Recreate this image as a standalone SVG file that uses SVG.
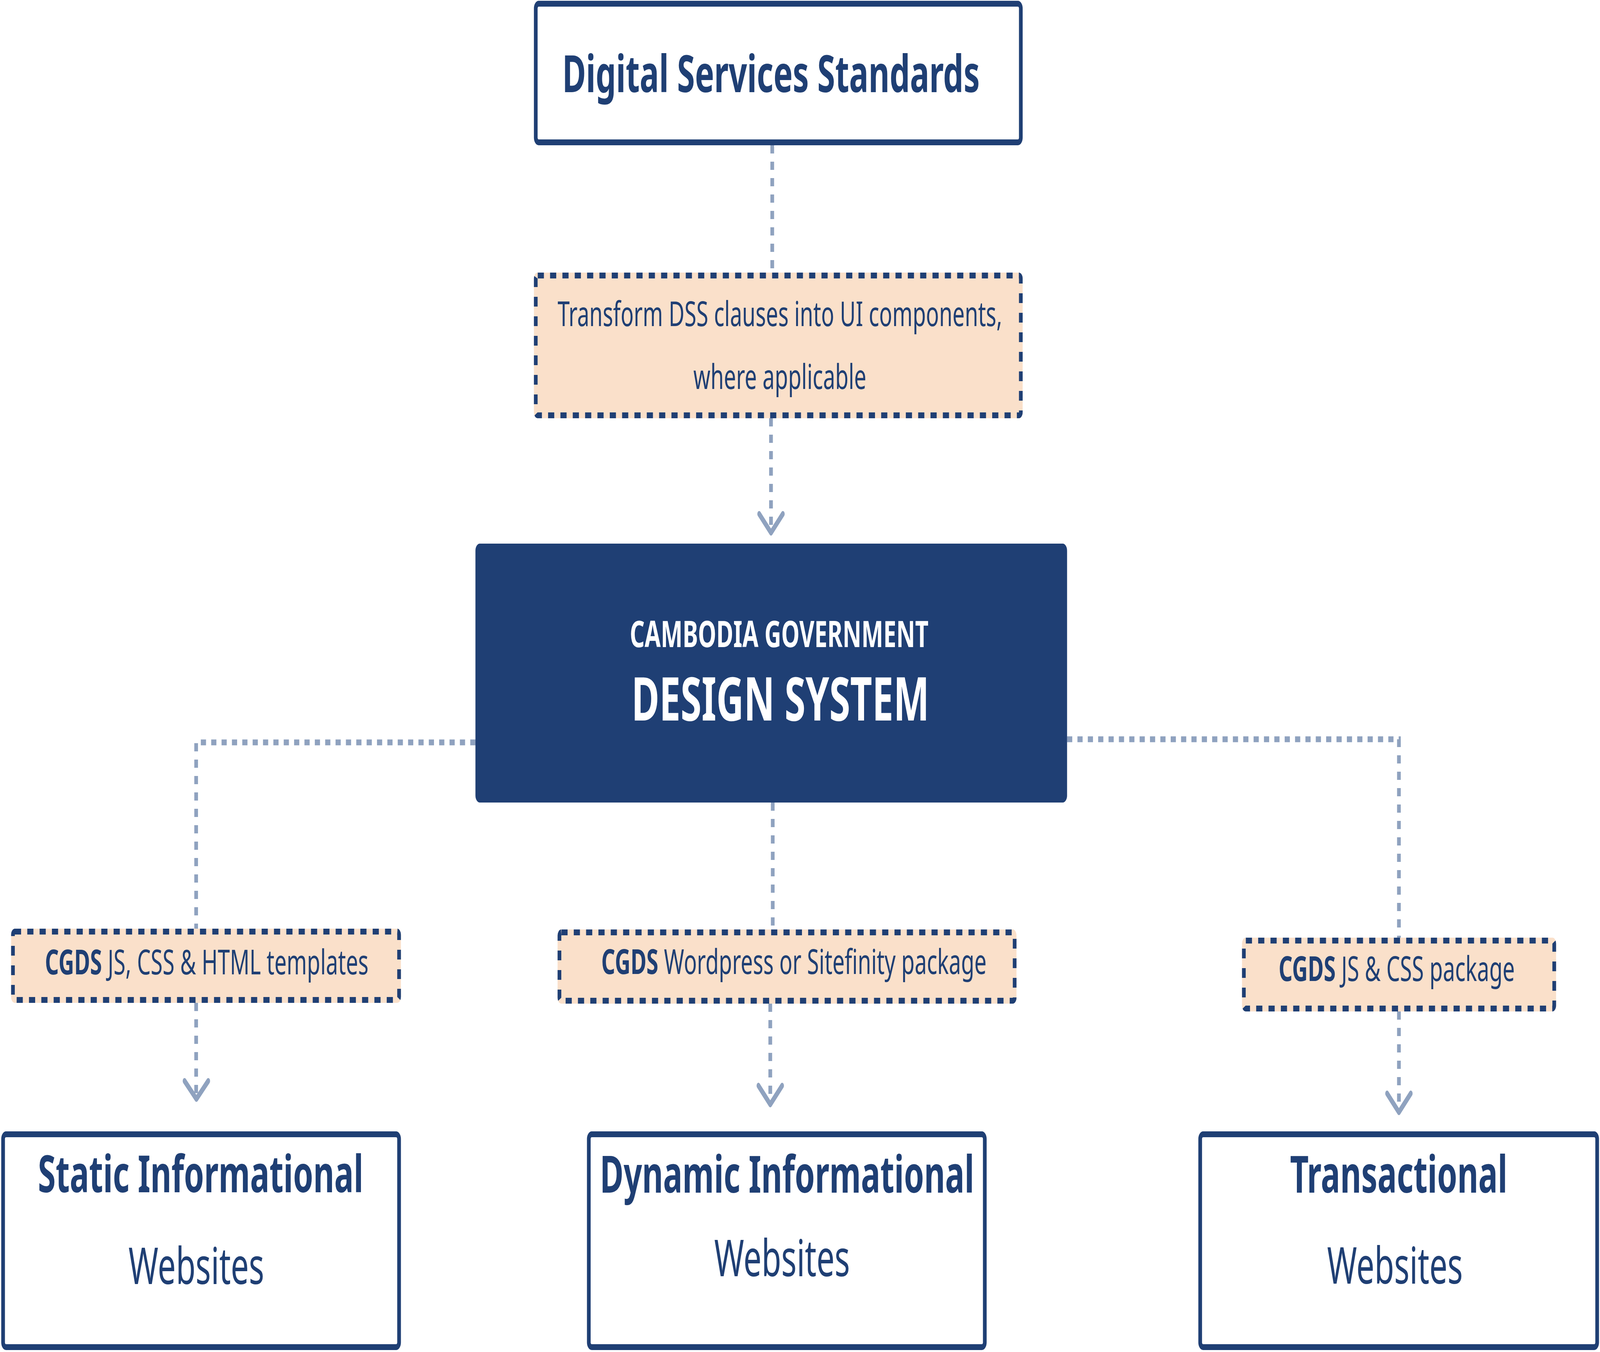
<svg xmlns="http://www.w3.org/2000/svg" width="6485" height="3462" viewBox="0 0 6485 3462" preserveAspectRatio="none" style="width:100%;height:100%;display:block">
<style>
  text { font-family: "Noto Sans", "Open Sans", "DejaVu Sans", sans-serif; fill: #1f3f74; text-anchor: middle; }
  .b { font-weight: 700; }
  .box { fill: #ffffff; stroke: #1f3f74; stroke-width: 15; }
  .lblfill { fill: #fae0ca; stroke: none; }
  .lblstroke { fill: none; stroke: #1f3f74; stroke-width: 15; stroke-dasharray: 25 25; }
  .conn { fill: none; stroke: #8fa2bf; stroke-width: 15; stroke-dasharray: 21 21; }
  .head { fill: none; stroke: #8fa2bf; stroke-width: 15; stroke-linecap: round; stroke-linejoin: round; }
  .lbl { font-size: 88px; }
</style>
<rect width="6485" height="3462" fill="#ffffff"/>

<g id="connectors">
  <path class="conn" d="M3130 372 V698"/>
  <path class="conn" d="M3125 1071 V1362"/>
  <path class="head" d="M3077 1316 L3125 1364 L3173 1316"/>
  <path class="conn" d="M1927 1901 H795 V2378"/>
  <path class="conn" d="M795 2568 V2810"/>
  <path class="head" d="M748 2768 L796 2814 L844 2768"/>
  <path class="conn" d="M3132 2055 V2380"/>
  <path class="conn" d="M3122 2570 V2826"/>
  <path class="head" d="M3074 2780 L3122 2828 L3170 2780"/>
  <path class="conn" d="M4325 1893 H5670 V2401"/>
  <path class="conn" d="M5670 2590 V2846"/>
  <path class="head" d="M5622 2800 L5670 2848 L5718 2800"/>
</g>

<g id="dss">
  <rect class="box" x="2171.5" y="9.5" width="1966" height="355" rx="12"/>
  <text class="b" x="3125" y="236" font-size="131">Digital Services Standards</text>
</g>

<g id="transform-label">
  <rect class="lblfill" x="2164" y="698" width="1981" height="373" rx="15"/>
  <rect class="lblstroke" x="2171.5" y="705.5" width="1966" height="358" rx="8"/>
  <text x="3161" y="835" font-size="88">Transform DSS clauses into UI components,</text>
  <text x="3161" y="996" font-size="88">where applicable</text>
</g>

<g id="cgds">
  <rect x="1927" y="1392" width="2398" height="663" rx="18" fill="#1f3f74"/>
  <text class="b" x="3158" y="1657" font-size="94" style="fill:#ffffff">CAMBODIA GOVERNMENT</text>
  <text class="b" x="3163" y="1845" font-size="154" style="fill:#ffffff">DESIGN SYSTEM</text>
</g>

<g id="label-static">
  <rect class="lblfill" x="45" y="2378" width="1580" height="190" rx="15"/>
  <rect class="lblstroke" x="52.5" y="2385.5" width="1565" height="175" rx="8"/>
  <text class="lbl" x="838" y="2495"><tspan class="b">CGDS</tspan> JS, CSS &amp; HTML templates</text>
</g>

<g id="label-dynamic">
  <rect class="lblfill" x="2260" y="2380" width="1860" height="190" rx="15"/>
  <rect class="lblstroke" x="2267.5" y="2387.5" width="1845" height="175" rx="8"/>
  <text class="lbl" x="3218" y="2494"><tspan class="b">CGDS</tspan> Wordpress or Sitefinity package</text>
</g>

<g id="label-transactional">
  <rect class="lblfill" x="5034" y="2401" width="1273" height="189" rx="15"/>
  <rect class="lblstroke" x="5041.5" y="2408.5" width="1258" height="174" rx="8"/>
  <text class="lbl" x="5661" y="2512"><tspan class="b">CGDS</tspan> JS &amp; CSS package</text>
</g>

<g id="static">
  <rect class="box" x="12.5" y="2904.5" width="1605" height="545" rx="12"/>
  <text class="b" x="813" y="3053" font-size="131">Static Informational</text>
  <text x="796" y="3288" font-size="130">Websites</text>
</g>

<g id="dynamic">
  <rect class="box" x="2386.5" y="2904.5" width="1605" height="545" rx="12"/>
  <text class="b" x="3190" y="3054" font-size="131">Dynamic Informational</text>
  <text x="3170" y="3268" font-size="130">Websites</text>
</g>

<g id="transactional">
  <rect class="box" x="4864.5" y="2904.5" width="1609" height="545" rx="12"/>
  <text class="b" x="5669" y="3054" font-size="131">Transactional</text>
  <text x="5654" y="3287" font-size="130">Websites</text>
</g>
</svg>
